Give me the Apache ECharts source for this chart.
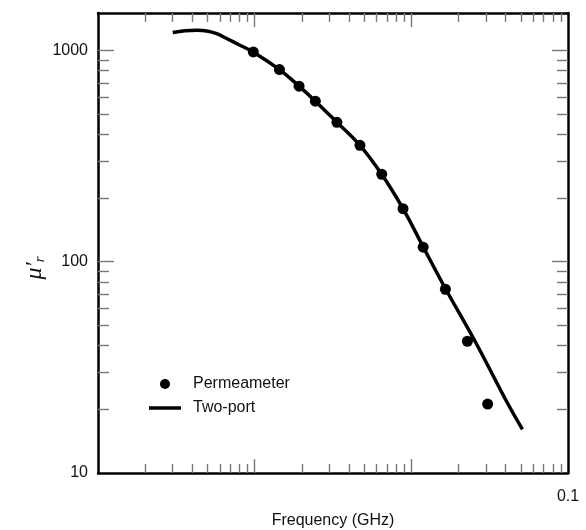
<!DOCTYPE html>
<html>
<head>
<meta charset="utf-8">
<script src="https://cdn.jsdelivr.net/npm/echarts@6/dist/echarts.min.js"></script>
<style>
  html, body { margin: 0; padding: 0; background: #fff; }
  #chart { width: 586px; height: 530px; }
</style>
</head>
<body>
<div id="chart"></div>
<script>
// permeameter measurements (GHz, mu'r)
const permFreq = [0.00098, 0.00144, 0.00192, 0.00244, 0.00335, 0.0047, 0.00647, 0.00885, 0.0119, 0.0165, 0.0228, 0.0307];
const permMu = [982, 810, 676, 574, 456, 355, 259, 178, 117, 74, 42, 21.2];

// two-port curve
const twoPortFreq = [0.0003, 0.000359, 0.000427, 0.000494, 0.000572, 0.000663, 0.000806, 0.000976, 0.00144, 0.00192, 0.00244, 0.00335, 0.0047, 0.00647, 0.00885, 0.0119, 0.0166, 0.0255, 0.0414, 0.0512];
const twoPortMu = [1212, 1237, 1243, 1234, 1199, 1136, 1056, 982, 810, 676, 574, 456, 355, 259, 178, 117.5, 74, 42, 21.2, 16.1];

// axis ticks / labels
const xLabels = [0.1];
const xMajorTicks = [0.001, 0.01];
const xMinorTicks = [0.0002, 0.0003, 0.0004, 0.0005, 0.0006, 0.0007, 0.0008, 0.0009,
  0.002, 0.003, 0.004, 0.005, 0.006, 0.007, 0.008, 0.009,
  0.02, 0.03, 0.04, 0.05, 0.06, 0.07, 0.08, 0.09];
const yLabels = [10, 100, 1000];
const yMajorTicks = [100, 1000];
const yMinorTicks = [20, 30, 40, 50, 60, 70, 80, 90, 200, 300, 400, 500, 600, 700, 800, 900];

const FONT = 'Liberation Sans, Arial, sans-serif';
const SERIF = 'Liberation Serif, Times New Roman, serif';
const TICK = { color: '#777', width: 1.4 };

const fmt = v => String(+(+v).toPrecision(6));

function xAx(gridIndex, position, ticks, len, opts) {
  return Object.assign({
    type: 'log', gridIndex, position, min: 0.0001, max: 0.1,
    axisLine: { show: gridIndex === 0, lineStyle: { color: '#000', width: 2.5 } },
    axisTick: { show: true, inside: true, length: len, customValues: ticks, lineStyle: TICK },
    axisLabel: { show: false },
    splitLine: { show: false }
  }, opts || {});
}

function yAx(gridIndex, position, ticks, len, opts) {
  return Object.assign({
    type: 'log', gridIndex, position, min: 10, max: 1500,
    axisLine: { show: gridIndex === 0, lineStyle: { color: '#000', width: 2.5 } },
    axisTick: { show: true, inside: true, length: len, customValues: ticks, lineStyle: TICK },
    axisLabel: { show: false },
    splitLine: { show: false }
  }, opts || {});
}

const chart = echarts.init(document.getElementById('chart'));

const gridBox = { left: 98, top: 13, width: 470, height: 460, outerBoundsMode: 'none' };

const option = {
  animation: false,
  backgroundColor: '#fff',
  textStyle: { fontFamily: FONT },
  grid: [Object.assign({}, gridBox), Object.assign({}, gridBox)],
  legend: {
    orient: 'vertical',
    left: 149,
    top: 376,
    padding: 0,
    itemWidth: 32,
    itemHeight: 10,
    itemGap: 8,
    textStyle: { fontFamily: FONT, fontSize: 16, color: '#111', padding: [0, 0, 0, 7] },
    data: [
      { name: 'Permeameter', icon: 'circle', itemStyle: { color: '#000', opacity: 1 } },
      { name: 'Two-port', icon: 'path://M0,0H32V3.5H0Z', itemStyle: { color: '#000', opacity: 1 } }
    ]
  },
  xAxis: [
    xAx(0, 'bottom', xMajorTicks, 14, {
      name: 'Frequency (GHz)',
      nameLocation: 'middle',
      nameGap: 40,
      nameTextStyle: { fontFamily: FONT, fontSize: 16, color: '#111' },
      axisLabel: {
        show: true, customValues: xLabels, margin: 16,
        fontFamily: FONT, fontSize: 16, color: '#111', formatter: fmt
      }
    }),
    xAx(0, 'top', xMajorTicks, 14),
    xAx(1, 'bottom', xMinorTicks, 9),
    xAx(1, 'top', xMinorTicks, 9)
  ],
  yAxis: [
    yAx(0, 'left', yMajorTicks, 16, {
      name: '{mu|μ′}{r|r}',
      nameLocation: 'middle',
      nameGap: 50,
      nameRotate: 90,
      nameMoveOverlap: false,
      nameTextStyle: {
        padding: [0, 50, 0, 0],
        rich: {
          mu: { fontFamily: SERIF, fontSize: 24, fontStyle: 'italic', color: '#111', lineHeight: 26 },
          r: { fontFamily: SERIF, fontSize: 15, fontStyle: 'italic', color: '#111', verticalAlign: 'bottom', lineHeight: 15, padding: [8, 0, 0, 0] }
        }
      },
      axisLabel: {
        show: true, customValues: yLabels, margin: 10,
        fontFamily: FONT, fontSize: 16, color: '#111', formatter: fmt
      }
    }),
    yAx(0, 'right', yMajorTicks, 16),
    yAx(1, 'left', yMinorTicks, 11),
    yAx(1, 'right', yMinorTicks, 11)
  ],
  series: [
    {
      name: 'Permeameter',
      type: 'scatter',
      xAxisIndex: 0,
      yAxisIndex: 0,
      symbol: 'circle',
      symbolSize: 11,
      itemStyle: { color: '#000', opacity: 1 },
      z: 3,
      data: permFreq.map((f, i) => [f, permMu[i]])
    },
    {
      name: 'Two-port',
      type: 'line',
      xAxisIndex: 0,
      yAxisIndex: 0,
      symbol: 'none',
      showSymbol: false,
      smooth: 0.4,
      lineStyle: { color: '#000', width: 3.5 },
      itemStyle: { color: '#000' },
      z: 2,
      data: twoPortFreq.map((f, i) => [f, twoPortMu[i]])
    }
  ]
};

chart.setOption(option);
</script>
</body>
</html>
